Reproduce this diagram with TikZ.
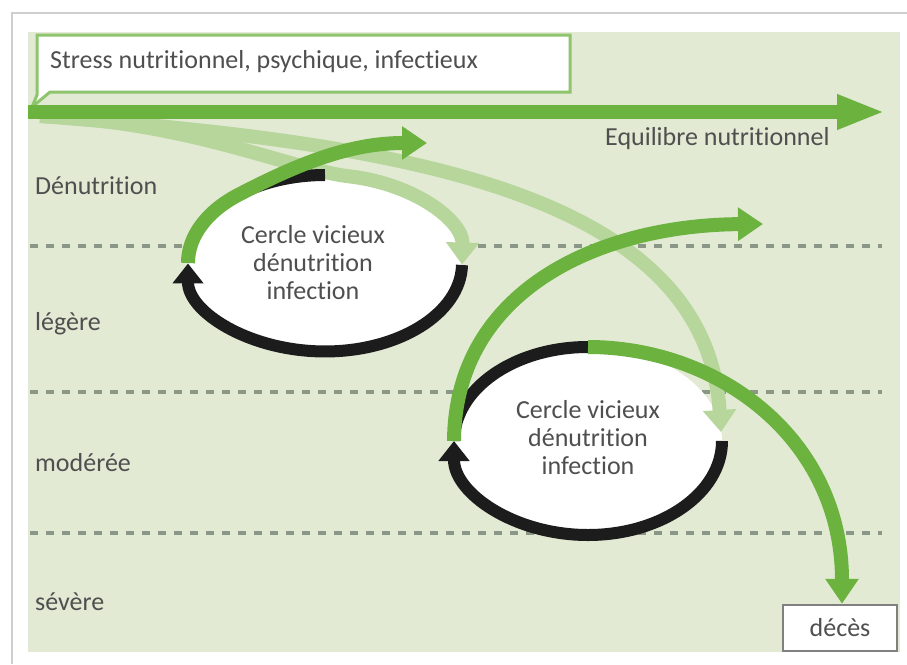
\documentclass[tikz,border=0pt]{standalone}
\usepackage{fontspec}
\setmainfont{Carlito}[Ligatures={NoCommon,NoRare,NoContextual}]
\usetikzlibrary{arrows.meta}
\definecolor{panel}{HTML}{E2EAD4}
\definecolor{grn}{HTML}{6CB23F}
\definecolor{pale}{HTML}{B6D69B}
\definecolor{boxgrn}{HTML}{8DC46C}
\definecolor{blk}{HTML}{1C1C1C}
\definecolor{dashc}{HTML}{8A9686}
\definecolor{txt}{HTML}{4F4F4F}
\definecolor{framec}{HTML}{CFCFCF}
\definecolor{boxgrey}{HTML}{808080}
\begin{document}
\begin{tikzpicture}[x=1pt,y=-1pt,
  lbl/.style={font=\fontsize{26}{28}\selectfont, text=txt, inner sep=0pt},
  ring/.style={line width=12pt, draw=blk},
  blkhead/.style={ring, -{Triangle[length=20pt,width=30pt]}},
  garrow/.style={line width=14pt, draw=grn, -{Triangle[length=25pt,width=32pt]}},
  parrow/.style={line width=14pt, draw=pale, -{Triangle[length=22pt,width=32pt]}},
  dashline/.style={draw=dashc, line width=4pt, dash pattern=on 8pt off 8pt},
  circtext/.style={lbl, align=center}
]
\useasboundingbox (0,0) rectangle (907,664);
\fill[white] (0,0) rectangle (907,664);
% frame
\draw[framec, line width=2pt] (12,664) -- (12,13) -- (907,13);
% panel
\fill[panel] (28,32) rectangle (900,652);
% dashed levels
\draw[dashline] (30,246) -- (882,246);
\draw[dashline] (30,392) -- (882,392);
\draw[dashline] (30,533) -- (882,533);
% ellipses (white interiors)
\coordinate (c1) at (325,263);
\coordinate (c2) at (588,441);
\fill[white] (c1) ellipse [x radius=137pt, y radius=88pt];
\fill[white] (c2) ellipse [x radius=134pt, y radius=94pt];
% named points
\coordinate (start) at (28,112);
\coordinate (eqend) at (885,112);
\coordinate (p0) at (40,116);
\coordinate (c1P) at (348.8,176.3);
\coordinate (c1L) at (188,263);
\coordinate (c1T) at (325,175);
\coordinate (out1) at (427,143);
\coordinate (c2R) at (721,432);
\coordinate (c2L) at (454,441);
\coordinate (c2T) at (588,347);
\coordinate (out2) at (763,224);
% pale decline arrows
\draw[parrow] (p0) .. controls (190,122) and (289,169) .. (c1P)
  arc[start angle=80, end angle=-1, x radius=137pt, y radius=88pt];
\draw[parrow] (p0) .. controls (380,142) and (705,185) .. (c2R);
% black rings
\draw[blkhead] (462,265) arc[start angle=-1, end angle=-180, x radius=137pt, y radius=88pt];
\draw[ring] (c1T) arc[start angle=90, end angle=128, x radius=137pt, y radius=88pt];
\draw[blkhead] (722,441) arc[start angle=0, end angle=-180, x radius=134pt, y radius=94pt];
\draw[ring] (c2L) arc[start angle=180, end angle=90, x radius=134pt, y radius=94pt];
% green exit arrows
\draw[garrow] (c1L) arc[start angle=180, end angle=128, x radius=137pt, y radius=88pt]
  coordinate (c1j) .. controls +(58,-30) and (350,143) .. (out1);
\draw[garrow] (c2L) .. controls (455,290) and (600,225) .. (out2);
% stress box and main arrow
\draw[boxgrn, fill=white, line width=3pt, line join=miter]
  (37,35) -- (570,35) -- (570,92) -- (50,92) -- (32,107) -- (37,95) -- cycle;
\node[lbl, anchor=west] (stress) at (50,62) {Stress nutritionnel, psychique, infectieux};
\draw[line width=14pt, draw=grn, -{Triangle[length=48pt,width=32pt]}] (start) -- (eqend);
\node[lbl, anchor=west] (eq) at (605,139) {Equilibre nutritionnel};
% death box
\node[lbl, draw=boxgrey, line width=2.5pt, fill=white, minimum width=114pt, minimum height=46pt] (deces) at (840,628) {décès};
\draw[garrow] (c2T) .. controls (720,347) and (842,440) .. (deces.north -| 842,0);
% level labels
\node[lbl, anchor=west] (l1) at (35,186) {Dénutrition};
\node[lbl, anchor=west] (l2) at (35,324) {légère};
\node[lbl, anchor=west] (l3) at (35,463) {modérée};
\node[lbl, anchor=west] (l4) at (35,602) {sévère};
% circle texts
\node[circtext] (t1) at (313,263) {Cercle vicieux\\dénutrition\\infection};
\node[circtext] (t2) at (588,438) {Cercle vicieux\\dénutrition\\infection};
\end{tikzpicture}
\end{document}
